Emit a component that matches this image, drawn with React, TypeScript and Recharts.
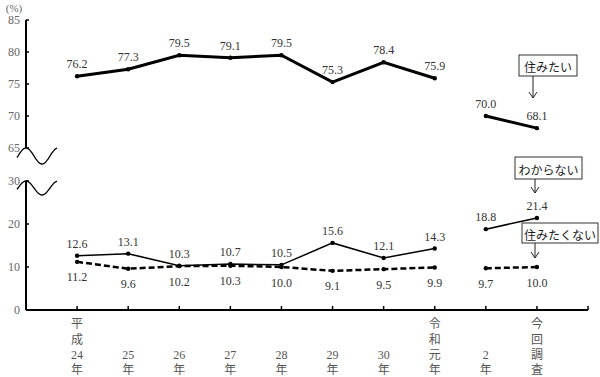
import React from "react";
import { LineChart, Line, XAxis, YAxis, LabelList } from "recharts";

const categories = ["平成24年", "25年", "26年", "27年", "28年", "29年", "30年", "令和元年", "2年", "今回調査"];
const tickLines = [
  ["平", "成", "24", "年"],
  ["25", "年"],
  ["26", "年"],
  ["27", "年"],
  ["28", "年"],
  ["29", "年"],
  ["30", "年"],
  ["令", "和", "元", "年"],
  ["2", "年"],
  ["今", "回", "調", "査"],
];
const sumitai = [76.2, 77.3, 79.5, 79.1, 79.5, 75.3, 78.4, 75.9, 70.0, 68.1];
const wakaranai = [12.6, 13.1, 10.3, 10.7, 10.5, 15.6, 12.1, 14.3, 18.8, 21.4];
const sumitakunai = [11.2, 9.6, 10.2, 10.3, 10.0, 9.1, 9.5, 9.9, 9.7, 10.0];
const upperTicks = [65, 70, 75, 80, 85];
const lowerTicks = [0, 10, 20, 30];
const breakIndex = 8; // gap between 令和元年 and 2年

const seg = (vals: number[], from: number, to: number) =>
  vals.slice(from, to).map((v, i) => ({ x: from + i + 1, name: categories[from + i], v }));

const FONT = "'Liberation Serif', 'DejaVu Serif', 'Noto Sans CJK JP', serif";
const JFONT = "'Noto Sans CJK JP', sans-serif";
const fmt = (v: any) => (v == null ? "" : Number(v).toFixed(1));
const xTicks = [1, 2, 3, 4, 5, 6, 7, 8, 9, 10, 11];
const lineY = [324, 340, 355, 370];

const XTick = (props: any) => {
  const { x, payload } = props;
  const lines = tickLines[payload.value - 1];
  if (!lines) return null;
  const top = 160;
  const start = 4 - lines.length;
  return (
    <g>
      {lines.map((t, i) => (
        <text
          key={i}
          x={x}
          y={lineY[start + i] - top}
          textAnchor="middle"
          dominantBaseline="central"
          fontSize={12}
          fill="#555"
          fontFamily={FONT}
        >
          {t}
        </text>
      ))}
    </g>
  );
};

const wave = (cy: number, amp: number) => {
  let d = "";
  for (let x = 17; x <= 57; x += 1) {
    const y = cy - amp * Math.cos((2 * Math.PI * (x - 26)) / 32);
    d += (x === 17 ? "M" : "L") + x + "," + y.toFixed(2) + " ";
  }
  return d;
};

const Callout = ({ x, y, w, h, text, ax, ay }: any) => (
  <g>
    <rect x={x} y={y} width={w} height={h} fill="#fff" stroke="#333" strokeWidth={1} />
    <text x={x + w / 2} y={y + h / 2 + 1} textAnchor="middle" dominantBaseline="central" fontSize={12} fontFamily={JFONT} fill="#222">
      {text}
    </text>
    <line x1={ax} y1={y + h} x2={ax} y2={ay} stroke="#222" strokeWidth={1} />
    <path d={`M${ax - 4},${ay - 6} L${ax},${ay} L${ax + 4},${ay - 6}`} fill="none" stroke="#222" strokeWidth={1} />
  </g>
);

const labelProps = { fontSize: 12, fill: "#333", fontFamily: FONT, stroke: "none" };
const dotStyle = { r: 2.2, fill: "#000", stroke: "none", strokeDasharray: "0" };

export default function App() {
  const axisTick = { fontSize: 12, fill: "#666", fontFamily: FONT };
  return (
    <div style={{ position: "absolute", left: 0, top: 0, width: 600, height: 377, background: "#fff" }}>
      <div style={{ position: "absolute", left: 0, top: 0 }}>
        <LineChart width={600} height={160} margin={{ top: 20, right: 12, bottom: 12, left: 0 }}>
          <XAxis type="number" dataKey="x" domain={[0, 11]} hide height={0} />
          <YAxis
            type="number"
            domain={[65, 85]}
            ticks={upperTicks}
            width={26}
            axisLine={{ stroke: "#000", strokeWidth: 2 }}
            tickLine={{ stroke: "#000", strokeWidth: 1.5 }}
            tickSize={-3}
            tickMargin={9}
            tick={axisTick}
            interval={0}
          />
          {[seg(sumitai, 0, breakIndex), seg(sumitai, breakIndex, 10)].map((d, i) => (
            <Line key={"s" + i} data={d} dataKey="v" stroke="#000" strokeWidth={3} dot={dotStyle} isAnimationActive={false}>
              <LabelList dataKey="v" position="top" offset={8} formatter={fmt} {...labelProps} />
            </Line>
          ))}
        </LineChart>
      </div>
      <div style={{ position: "absolute", left: 0, top: 160 }}>
        <LineChart width={600} height={217} margin={{ top: 21, right: 12, bottom: 0, left: 0 }}>
          <XAxis
            type="number"
            dataKey="x"
            domain={[0, 11]}
            ticks={xTicks}
            interval={0}
            height={67}
            axisLine={{ stroke: "#000", strokeWidth: 2 }}
            tickLine={{ stroke: "#000", strokeWidth: 1.5 }}
            tickSize={-4}
            tick={<XTick />}
          />
          <YAxis
            type="number"
            domain={[0, 30]}
            ticks={lowerTicks}
            width={26}
            axisLine={{ stroke: "#000", strokeWidth: 2 }}
            tickLine={{ stroke: "#000", strokeWidth: 1.5 }}
            tickSize={-3}
            tickMargin={9}
            tick={axisTick}
            interval={0}
          />
          {[seg(wakaranai, 0, breakIndex), seg(wakaranai, breakIndex, 10)].map((d, i) => (
            <Line key={"w" + i} data={d} dataKey="v" stroke="#000" strokeWidth={1.5} dot={dotStyle} isAnimationActive={false}>
              <LabelList dataKey="v" position="top" offset={8} formatter={fmt} {...labelProps} />
            </Line>
          ))}
          {[seg(sumitakunai, 0, breakIndex), seg(sumitakunai, breakIndex, 10)].map((d, i) => (
            <Line key={"n" + i} data={d} dataKey="v" stroke="#000" strokeWidth={2.5} strokeDasharray="6 3" dot={dotStyle} isAnimationActive={false}>
              <LabelList dataKey="v" position="bottom" offset={11} formatter={fmt} {...labelProps} />
            </Line>
          ))}
        </LineChart>
      </div>
      <svg width={600} height={377} style={{ position: "absolute", left: 0, top: 0, pointerEvents: "none" }}>
        <text x={14} y={8} textAnchor="middle" dominantBaseline="central" fontSize={11} fill="#666" fontFamily={FONT}>
          (%)
        </text>
        <path d={wave(156, 8)} fill="none" stroke="#000" strokeWidth={1.3} />
        <path d={wave(188, 7)} fill="none" stroke="#000" strokeWidth={1.3} />
        <Callout x={519} y={55} w={58} h={21} text="住みたい" ax={533} ay={98} />
        <Callout x={515} y={157} w={67} h={22} text="わからない" ax={535} ay={193} />
        <Callout x={522} y={223} w={76} h={20} text="住みたくない" ax={535} ay={258} />
      </svg>
    </div>
  );
}
